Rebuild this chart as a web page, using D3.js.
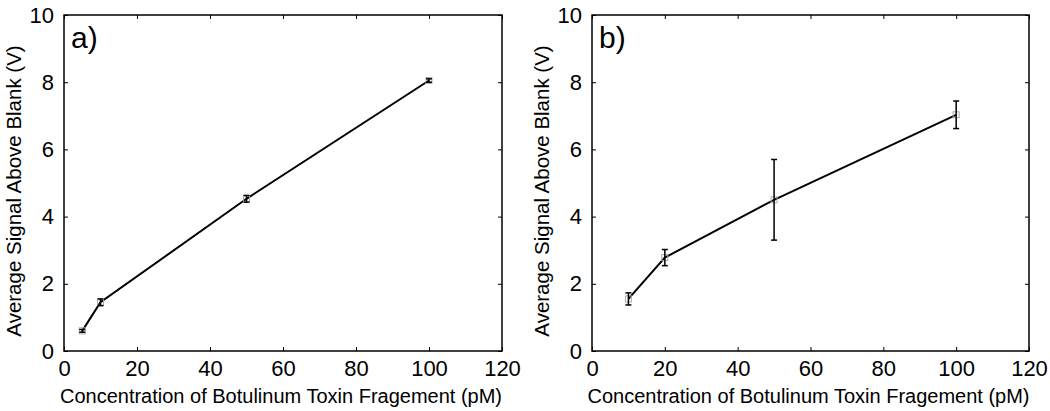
<!DOCTYPE html>
<html>
<head>
<meta charset="utf-8">
<script src="https://cdn.jsdelivr.net/npm/d3@7"></script>
<style>
  body { margin: 0; background: #fff; }
  text { font-family: "Liberation Sans", Arial, sans-serif; fill: #000; }
</style>
</head>
<body>
<svg id="chart" width="1050" height="411"></svg>
<script>
// panel a
var concA = [5, 10, 50, 100];
var signalA = [0.6, 1.45, 4.53, 8.05];
var errA = [0.04, 0.1, 0.1, 0.05];

// panel b
var concB = [10, 20, 50, 100];
var signalB = [1.55, 2.78, 4.5, 7.03];
var errB = [0.18, 0.24, 1.2, 0.41];

var xTicks = [0, 20, 40, 60, 80, 100, 120];
var yTicks = [0, 2, 4, 6, 8, 10];

var svg = d3.select("#chart");

function drawPanel(left, right, label, conc, signal, err) {
    var top = 15, bottom = 351;
    var x = d3.scaleLinear().domain([0, 120]).range([left, right]);
    var y = d3.scaleLinear().domain([0, 10]).range([bottom, top]);
    var g = svg.append("g");

    // frame
    g.append("rect")
        .attr("x", left).attr("y", top)
        .attr("width", right - left).attr("height", bottom - top)
        .attr("fill", "none").attr("stroke", "#000").attr("stroke-width", 1.5);

    // axes, ticks pointing inward
    g.append("g")
        .attr("transform", "translate(0," + bottom + ")")
        .call(d3.axisBottom(x).tickValues(xTicks).tickSize(-4).tickPadding(9).tickFormat(d3.format("d")))
        .call(a => a.select(".domain").remove())
        .call(a => a.selectAll("text").style("font-size", "22px"));
    g.append("g")
        .attr("transform", "translate(0," + top + ")")
        .call(d3.axisTop(x).tickValues(xTicks).tickSize(-4).tickFormat(""))
        .call(a => a.select(".domain").remove());
    g.append("g")
        .attr("transform", "translate(" + left + ",0)")
        .call(d3.axisLeft(y).tickValues(yTicks).tickSize(-4).tickPadding(10).tickFormat(d3.format("d")))
        .call(a => a.select(".domain").remove())
        .call(a => a.selectAll("text").style("font-size", "22px"));
    g.append("g")
        .attr("transform", "translate(" + right + ",0)")
        .call(d3.axisRight(y).tickValues(yTicks).tickSize(-4).tickFormat(""))
        .call(a => a.select(".domain").remove());

    // axis titles
    g.append("text")
        .attr("x", (left + right) / 2 - 2).attr("y", 403)
        .attr("text-anchor", "middle")
        .style("font-size", "20px")
        .text("Concentration of Botulinum Toxin Fragement (pM)");
    g.append("text")
        .attr("transform", "translate(" + (left - 43) + "," + ((top + bottom) / 2 + 8) + ") rotate(-90)")
        .attr("text-anchor", "middle")
        .style("font-size", "20.5px")
        .text("Average Signal Above Blank (V)");

    g.append("text")
        .attr("x", left + 7).attr("y", top + 33)
        .style("font-size", "30px")
        .text(label);

    var pts = conc.map(function(c, i) { return {c: c, v: signal[i], e: err[i]}; });

    // line
    g.append("path")
        .datum(pts)
        .attr("fill", "none").attr("stroke", "#000").attr("stroke-width", 2)
        .attr("d", d3.line().x(d => x(d.c)).y(d => y(d.v)));

    // markers
    g.selectAll(".mk").data(pts).enter().append("rect")
        .attr("x", d => x(d.c) - 3).attr("y", d => y(d.v) - 3)
        .attr("width", 6).attr("height", 6)
        .attr("fill", "none").attr("stroke", "#aaa").attr("stroke-width", 1);

    // error bars
    var eb = g.selectAll(".eb").data(pts).enter().append("g")
        .attr("stroke", "#000").attr("stroke-width", 1.5);
    eb.append("line")
        .attr("x1", d => x(d.c)).attr("x2", d => x(d.c))
        .attr("y1", d => y(d.v + d.e)).attr("y2", d => y(d.v - d.e));
    eb.append("line")
        .attr("x1", d => x(d.c) - 3).attr("x2", d => x(d.c) + 3)
        .attr("y1", d => y(d.v + d.e)).attr("y2", d => y(d.v + d.e));
    eb.append("line")
        .attr("x1", d => x(d.c) - 3).attr("x2", d => x(d.c) + 3)
        .attr("y1", d => y(d.v - d.e)).attr("y2", d => y(d.v - d.e));
}

drawPanel(64, 502, "a)", concA, signalA, errA);
drawPanel(592, 1029, "b)", concB, signalB, errB);
</script>
</body>
</html>
